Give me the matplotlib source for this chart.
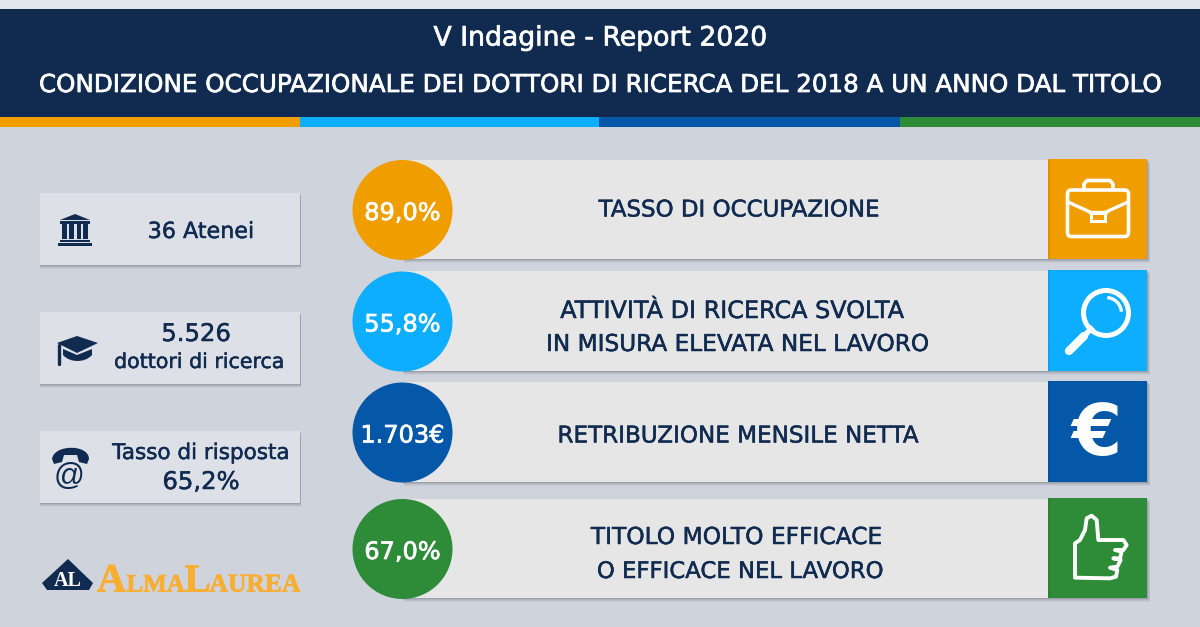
import numpy as np
import matplotlib
matplotlib.use("Agg")
import matplotlib.pyplot as plt
import matplotlib.patheffects as pe
from matplotlib.patches import Rectangle, Circle, FancyBboxPatch, Polygon, Arc, PathPatch
from matplotlib.path import Path

title_main = "V Indagine - Report 2020"
title_sub = "CONDIZIONE OCCUPAZIONALE DEI DOTTORI DI RICERCA DEL 2018 A UN ANNO DAL TITOLO"
metric_values = ["89,0%", "55,8%", "1.703€", "67,0%"]
metric_labels = ["TASSO DI OCCUPAZIONE",
                 "ATTIVITÀ DI RICERCA SVOLTA\nIN MISURA ELEVATA NEL LAVORO",
                 "RETRIBUZIONE MENSILE NETTA",
                 "TITOLO MOLTO EFFICACE\n O EFFICACE NEL LAVORO"]
metric_colors = ["#F09D00", "#0DADFF", "#0558A8", "#2E8B38"]
side_top = ["36 Atenei", "5.526", "Tasso di risposta"]
side_bottom = ["", "dottori di ricerca", "65,2%"]

NAVY = "#112B50"
BG = "#CFD4DC"
plt.rcParams["font.family"] = ["DejaVu Sans"]

fig = plt.figure(figsize=(12, 6.27), dpi=100, facecolor=BG)
ax = fig.add_axes([0, 0, 1, 1])
ax.set_xlim(0, 1200); ax.set_ylim(627, 0); ax.axis("off")
HEAVY_W = [pe.withStroke(linewidth=0.5, foreground="white")]
HEAVY_N = [pe.withStroke(linewidth=0.35, foreground=NAVY)]
ORANGE = "#F9AE32"
HEAVY_O = [pe.withStroke(linewidth=0.5, foreground=ORANGE)]

def rect(x0, y0, x1, y1, c, z=1, **k):
    ax.add_patch(Rectangle((x0, y0), x1 - x0, y1 - y0, fc=c, ec="none", zorder=z, **k))

def shadow(x0, y0, x1, y1, z=1, dx=1):
    for d, a in ((4, .06), (3, .09), (2, .13), (1, .16)):
        rect(x0 - 1 + min(d, dx), y0 + d, x1 + min(d, dx), y1 + d, "#4A5160", z, alpha=a)

# header
rect(0, 0, 1200, 9, "#E3E6EB", 1)
rect(0, 9, 1200, 117, NAVY, 2)
for (a, b), c in zip(((0, 300), (300, 599), (599, 900), (900, 1200)), metric_colors):
    rect(a, 117, b, 127, c, 2)
ax.text(600, 38.5, title_main, color="white", fontsize=19.2, ha="center", va="center", zorder=3, path_effects=HEAVY_W)
ax.text(601, 85, title_sub, color="white", fontsize=17.7, ha="center", va="center", zorder=3, path_effects=HEAVY_W)

# side boxes
box_y = [(193, 265), (312, 384), (431, 503)]
for (a, b) in box_y:
    shadow(40, a, 300, b, 1)
    rect(40, a, 300, b, "#DDE0E6", 2)

ax.text(201, 232, side_top[0], color=NAVY, fontsize=16, ha="center", va="center", zorder=3, path_effects=HEAVY_N)
ax.text(196, 334, side_top[1], color=NAVY, fontsize=17.5, ha="center", va="center", zorder=3, path_effects=HEAVY_N)
ax.text(199, 362, side_bottom[1], color=NAVY, fontsize=14.8, ha="center", va="center", zorder=3, path_effects=HEAVY_N)
ax.text(201, 453, side_top[2], color=NAVY, fontsize=15.5, ha="center", va="center", zorder=3, path_effects=HEAVY_N)
ax.text(201, 482, side_bottom[2], color=NAVY, fontsize=17.5, ha="center", va="center", zorder=3, path_effects=HEAVY_N)

# icon: university
ax.add_patch(Polygon([(60, 220), (75, 214), (90, 220)], fc=NAVY, ec="none", zorder=3))
rect(60, 221, 90, 223.5, NAVY, 3)
for x0, x1 in ((62, 67), (69, 74), (76.5, 81), (83, 88)):
    rect(x0, 224, x1, 239, NAVY, 3)
rect(60, 240, 90, 242, NAVY, 3)
rect(58, 243, 92, 246, NAVY, 3)

# icon: graduation cap
ax.add_patch(Polygon([(57, 343), (77, 336), (98, 343), (77, 353)], fc=NAVY, ec="none", zorder=3))
ax.add_patch(PathPatch(Path([(63, 349), (77, 355), (92, 349), (92, 355), (85, 363), (70, 363), (63, 355), (63, 349)],
                            [1, 2, 2, 2, 4, 4, 4, 79]), fc=NAVY, ec="none", zorder=3))
ax.plot([58.5, 58.5], [345, 364], color=NAVY, lw=2.4, solid_capstyle="round", zorder=3)

# icon: phone + at
ax.add_patch(PathPatch(Path([(52, 459), (54, 444), (89, 444), (89, 459), (87, 464), (79, 462), (77, 455),
                             (64, 455), (62, 462), (54, 464), (52, 459)],
                            [1, 4, 4, 4, 2, 2, 2, 2, 2, 2, 2]), fc=NAVY, ec="none", zorder=3))
ax.text(69, 477, "@", color=NAVY, fontsize=22, ha="center", va="center", zorder=3, family="Liberation Sans")

# logo
ax.add_patch(Polygon([(68, 559), (93, 583), (89, 590), (47, 590), (42, 583)], fc=NAVY, ec="none", zorder=3))
ax.text(67.5, 581, "AL", color="white", fontsize=14.5, fontweight="bold", family="Liberation Serif",
        ha="center", va="center", zorder=4)
for s, fs, x in (("A", 29, 97), ("LMA", 18, 126.5), ("L", 28.5, 184.5), ("AUREA", 18.4, 209.5)):
    ax.text(x, 591.5, s, color=ORANGE, fontsize=fs, fontweight="bold", family="Liberation Serif",
            ha="left", va="baseline", zorder=3, path_effects=HEAVY_O)

# rows
row_y = [(159, 259), (270, 371), (381, 482), (498, 598)]
for (a, b), c, v in zip(row_y, metric_colors, metric_values):
    shadow(402, a, 1147, b, 1, dx=3)
    rect(402, a + 1, 1048, b, "#E6E6E6", 2)
    rect(1048, a, 1147, b, c, 3)
    rect(1048, a, 1050, b, "#000000", 3.1, alpha=.07)
    ax.add_patch(Circle((402.5, (a + b) / 2 + 1), 50, fc=c, ec="none", zorder=4))
    ax.text(402.5, (a + b) / 2 + 4, v, color="white", fontsize=17.3, ha="center", va="center", zorder=5,
            path_effects=HEAVY_W)

def label(x, y, s, fs=16.7):
    ax.text(x, y, s, color=NAVY, fontsize=fs, ha="center", va="center", zorder=5, path_effects=HEAVY_N)

l2 = metric_labels[1].split("\n")
l4 = metric_labels[3].split("\n")
label(738.5, 210, metric_labels[0], 16.5)
label(733, 311, l2[0], 17.2)
label(737, 344.5, l2[1])
label(737.5, 436, metric_labels[2], 16.6)
label(736.5, 537.5, l4[0], 16.8)
label(736.5, 571.5, l4[1], 16.4)

W = "white"
# briefcase
ax.add_patch(FancyBboxPatch((1067.5, 190), 61, 46.5, boxstyle="round,pad=0,rounding_size=4", fc="none", ec=W, lw=2.6, zorder=6))
ax.plot([1084, 1084, 1087, 1110, 1113, 1113], [189, 184, 180.5, 180.5, 184, 189], color=W, lw=2.6, zorder=6)
ax.plot([1068, 1090], [202, 212], color=W, lw=2.4, zorder=6)
ax.plot([1106, 1128], [212, 202], color=W, lw=2.4, zorder=6)
ax.plot([1090, 1106], [212, 212], color=W, lw=2.4, zorder=6)
ax.add_patch(Rectangle((1091, 213), 14, 8, fc="none", ec=W, lw=2.2, zorder=6))

# magnifier
ax.add_patch(Circle((1106, 313), 22.5, fc="none", ec=W, lw=3.6, zorder=6))
ax.add_patch(Arc((1106, 313), 31, 31, angle=0, theta1=-85, theta2=-5, ec=W, lw=2.4, zorder=6))
ax.plot([1091, 1085], [329, 335], color=W, lw=4, zorder=6)
ax.plot([1084, 1069], [336, 351], color=W, lw=6, solid_capstyle="round", zorder=6)

# euro
ax.text(1097, 435, "€", color=W, fontsize=52, fontweight="bold", ha="center", va="center", zorder=6)

# thumb up (traced in reference pixels)
thumb_zoom = [(135, 608), (135, 505), (150, 495), (165, 465), (170, 430), (185, 422), (200, 435), (205, 495),
              (280, 495), (290, 510), (280, 525), (255, 525), (275, 530), (270, 550), (250, 550), (272, 555),
              (262, 575), (240, 578), (262, 585), (258, 605), (240, 610), (135, 608)]
thumb = [(1030 + zx / 3, 375 + zy / 3) for zx, zy in thumb_zoom]
ax.add_patch(Polygon(thumb, closed=True, fc="none", ec=W, lw=2.8, joinstyle="round", zorder=6))

fig.savefig("out.png", dpi=100, facecolor=BG)
